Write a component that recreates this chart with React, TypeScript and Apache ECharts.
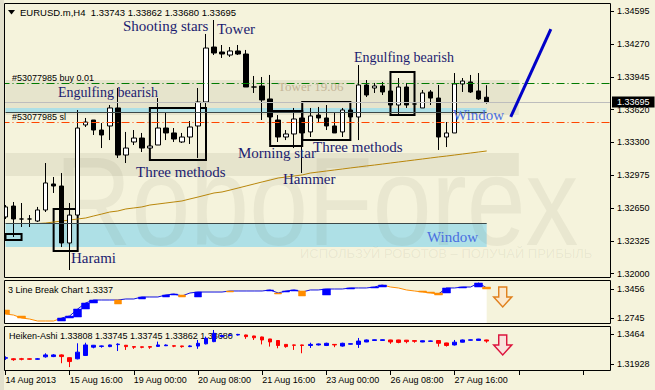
import React, { useEffect, useRef } from 'react';
import * as echarts from 'echarts';

// ---------------- data ----------------
const tickLabels = ['14 Aug 2013', '15 Aug 16:00', '19 Aug 00:00', '20 Aug 08:00', '21 Aug 16:00', '23 Aug 00:00', '26 Aug 08:00', '27 Aug 16:00'];
const barSlots = 76;
const tickEvery = 8;

const opens = [1.32560, 1.32668, 1.32540, 1.32540, 1.32520, 1.32629, 1.32886, 1.32866, 1.32303, 1.32579,
  1.33469, 1.33518, 1.33419, 1.33459, 1.33637, 1.33172, 1.33301, 1.33340, 1.33241, 1.33271,
  1.33439, 1.33390, 1.33301, 1.33350, 1.33459, 1.33696, 1.34239, 1.34190, 1.34160, 1.34200,
  1.34170, 1.33844, 1.33854, 1.33726, 1.33518, 1.33350, 1.33380, 1.33538, 1.33400, 1.33567,
  1.33538, 1.33459, 1.33400, 1.33617, 1.33548, 1.33864, 1.33834, 1.33854, 1.33805, 1.33666,
  1.33844, 1.33676, 1.33637, 1.33795, 1.33735, 1.33350, 1.33390, 1.33874, 1.33894, 1.33805,
  1.33743];
const closes = [1.32659, 1.32540, 1.32540, 1.32540, 1.32629, 1.32896, 1.32866, 1.32303, 1.32579, 1.33439,
  1.33498, 1.33419, 1.33370, 1.33637, 1.33172, 1.33241, 1.33340, 1.33241, 1.33261, 1.33439,
  1.33390, 1.33330, 1.33350, 1.33449, 1.33696, 1.34229, 1.34180, 1.34170, 1.34200, 1.34170,
  1.33844, 1.33844, 1.33716, 1.33548, 1.33350, 1.33380, 1.33528, 1.33390, 1.33558, 1.33538,
  1.33459, 1.33390, 1.33617, 1.33548, 1.33864, 1.33765, 1.33854, 1.33795, 1.33666, 1.33844,
  1.33666, 1.33676, 1.33785, 1.33735, 1.33350, 1.33390, 1.33874, 1.33903, 1.33795, 1.33726,
  1.33695];
const lows = [1.32540, 1.32362, 1.32461, 1.32461, 1.32510, 1.32609, 1.32797, 1.32263, 1.32036, 1.32579,
  1.33449, 1.33370, 1.33241, 1.33320, 1.33143, 1.33093, 1.33271, 1.33202, 1.33231, 1.33271,
  1.33320, 1.33301, 1.33291, 1.33281, 1.33143, 1.33597, 1.34160, 1.34131, 1.34141, 1.34160,
  1.33844, 1.33785, 1.33518, 1.33320, 1.33301, 1.33320, 1.33241, 1.32994, 1.33350, 1.33488,
  1.33419, 1.33390, 1.33350, 1.33538, 1.33320, 1.33745, 1.33785, 1.33765, 1.33647, 1.33567,
  1.33637, 1.33666, 1.33637, 1.33666, 1.33222, 1.33251, 1.33390, 1.33795, 1.33785, 1.33716,
  1.33680];
const highs = [1.32678, 1.32708, 1.32698, 1.32579, 1.32659, 1.33093, 1.32955, 1.32994, 1.32698, 1.33617,
  1.33538, 1.33518, 1.33488, 1.33666, 1.33834, 1.33400, 1.33419, 1.33390, 1.33271, 1.33735,
  1.33587, 1.33439, 1.33390, 1.33508, 1.33834, 1.34368, 1.34506, 1.34259, 1.34239, 1.34259,
  1.34210, 1.33953, 1.33943, 1.33963, 1.33567, 1.33419, 1.33637, 1.33617, 1.33637, 1.33647,
  1.33666, 1.33587, 1.33637, 1.33666, 1.34061, 1.33913, 1.33884, 1.33894, 1.33814, 1.33933,
  1.33884, 1.33686, 1.33814, 1.33814, 1.33864, 1.33498, 1.33982, 1.33933, 1.33963, 1.33982,
  1.33862];

const maValues = [null, null, null, null, 1.32495, 1.32500, 1.32510, 1.32520, 1.32530, 1.32540,
  1.32550, 1.32570, 1.32589, 1.32609, 1.32619, 1.32639, 1.32649, 1.32659, 1.32678, 1.32688,
  1.32698, 1.32708, 1.32718, 1.32738, 1.32757, 1.32777, 1.32797, 1.32807, 1.32826, 1.32846,
  1.32866, 1.32886, 1.32906, 1.32925, 1.32945, 1.32955, 1.32965, 1.32975, 1.32994, 1.33004,
  1.33014, 1.33024, 1.33034, 1.33044, 1.33054, 1.33064, 1.33073, 1.33083, 1.33093, 1.33103,
  1.33113, 1.33123, 1.33133, 1.33143, 1.33153, 1.33162, 1.33172, 1.33182, 1.33192, 1.33202,
  1.33212];

// 3 Line Break
const lbLevels = [1.2843, 1.2818, 1.2745, 1.2720, 1.2671, 1.2671, 1.2671, 1.2745, 1.2794, 1.2966,
  1.3113, 1.3186, 1.3186, 1.3186, 1.3186, 1.3211, 1.3211, 1.3260, 1.3260, 1.3260,
  1.3309, 1.3333, 1.3284, 1.3358, 1.3382, 1.3382, 1.3382, 1.3382, 1.3407, 1.3407,
  1.3407, 1.3407, 1.3407, 1.3432, 1.3358, 1.3407, 1.3432, 1.3382, 1.3432, 1.3432,
  1.3456, 1.3456, 1.3456, 1.3481, 1.3481, 1.3481, 1.3505, 1.3554, 1.3505, 1.3481,
  1.3432, 1.3407, 1.3382, 1.3358, 1.3333, 1.3481, 1.3481, 1.3505, 1.3505, 1.3603,
  1.3481];
const lbBricks = [
  [0, 1.2941, 1.2843], [2, 1.2794, 1.2745], [7, 1.2671, 1.2745], [8, 1.2745, 1.2794],
  [9, 1.2769, 1.2966], [10, 1.2966, 1.3113], [11, 1.3113, 1.3186], [14, 1.3186, 1.3088],
  [17, 1.3211, 1.3260], [20, 1.3260, 1.3309], [21, 1.3309, 1.3333], [22, 1.3309, 1.3260],
  [24, 1.3260, 1.3382], [28, 1.3407, 1.3382], [33, 1.3407, 1.3432], [34, 1.3358, 1.3333],
  [35, 1.3382, 1.3407], [36, 1.3407, 1.3432], [37, 1.3407, 1.3284], [40, 1.3309, 1.3456],
  [43, 1.3456, 1.3481], [46, 1.3481, 1.3505], [47, 1.3505, 1.3554], [52, 1.3407, 1.3382],
  [53, 1.3382, 1.3358], [54, 1.3358, 1.3309], [55, 1.3358, 1.3481], [57, 1.3481, 1.3505],
  [59, 1.3505, 1.3603], [60, 1.3505, 1.3456]];
const lbOrangeSpans = [[0, 7], [47, 55]];
const lbBlueSpans = [[7, 47], [54, 60]];

// Heiken-Ashi
const haOpen = [1.3245, 1.3240, 1.3240, 1.3240, 1.3236, 1.3258, 1.3260, 1.3275, 1.3250, 1.3240,
  1.3270, 1.3345, 1.3352, 1.3350, 1.3368, 1.3362, 1.3350, 1.3348, 1.3350, 1.3352,
  1.3358, 1.3358, 1.3356, 1.3350, 1.3355, 1.3375, 1.3395, 1.3440, 1.3450, 1.3455,
  1.3455, 1.3446, 1.3437, 1.3419, 1.3405, 1.3370, 1.3365, 1.3365, 1.3360, 1.3365,
  1.3360, 1.3370, 1.3355, 1.3372, 1.3370, 1.3392, 1.3405, 1.3406, 1.3410, 1.3410,
  1.3408, 1.3404, 1.3392, 1.3398, 1.3405, 1.3383, 1.3365, 1.3390, 1.3408, 1.3406,
  1.3410];
const haClose = [1.3250, 1.3232, 1.3236, 1.3236, 1.3240, 1.3275, 1.3275, 1.3260, 1.3215, 1.3300,
  1.3365, 1.3362, 1.3356, 1.3365, 1.3372, 1.3350, 1.3345, 1.3344, 1.3345, 1.3365,
  1.3364, 1.3354, 1.3350, 1.3356, 1.3380, 1.3425, 1.3470, 1.3450, 1.3455, 1.3460,
  1.3440, 1.3430, 1.3410, 1.3392, 1.3360, 1.3350, 1.3362, 1.3360, 1.3370, 1.3374,
  1.3380, 1.3365, 1.3380, 1.3376, 1.3400, 1.3410, 1.3412, 1.3412, 1.3392, 1.3388,
  1.3395, 1.3398, 1.3403, 1.3401, 1.3380, 1.3360, 1.3390, 1.3410, 1.3411, 1.3418,
  1.3400];
const haLow = [1.3230, 1.3222, 1.3226, 1.3230, 1.3232, 1.3250, 1.3255, 1.3200, 1.3165, 1.3235,
  1.3265, 1.3335, 1.3340, 1.3345, 1.3310, 1.3320, 1.3330, 1.3335, 1.3330, 1.3348,
  1.3355, 1.3345, 1.3340, 1.3345, 1.3330, 1.3370, 1.3390, 1.3436, 1.3445, 1.3450,
  1.3420, 1.3410, 1.3370, 1.3350, 1.3335, 1.3340, 1.3320, 1.3290, 1.3338, 1.3360,
  1.3355, 1.3345, 1.3350, 1.3370, 1.3338, 1.3390, 1.3402, 1.3404, 1.3375, 1.3380,
  1.3380, 1.3385, 1.3390, 1.3396, 1.3350, 1.3350, 1.3360, 1.3388, 1.3405, 1.3404,
  1.3385];
const haHigh = [1.3262, 1.3245, 1.3248, 1.3244, 1.3246, 1.3290, 1.3282, 1.3280, 1.3252, 1.3380,
  1.3385, 1.3365, 1.3360, 1.3368, 1.3380, 1.3365, 1.3355, 1.3350, 1.3355, 1.3395,
  1.3370, 1.3360, 1.3358, 1.3362, 1.3410, 1.3440, 1.3500, 1.3458, 1.3460, 1.3465,
  1.3458, 1.3448, 1.3440, 1.3420, 1.3408, 1.3372, 1.3368, 1.3368, 1.3385, 1.3378,
  1.3385, 1.3372, 1.3385, 1.3378, 1.3428, 1.3414, 1.3414, 1.3414, 1.3412, 1.3412,
  1.3410, 1.3406, 1.3406, 1.3404, 1.3408, 1.3385, 1.3410, 1.3414, 1.3414, 1.3420,
  1.3412];

const mainTicks = [1.32, 1.32325, 1.3265, 1.32975, 1.333, 1.3362, 1.33945, 1.3427, 1.34595];
const lbTicks = [1.2745, 1.3456];
const haTicks = [1.31928, 1.3464];
const buyLevel = 1.33884;
const slLevel = 1.33493;
const bidLevel = 1.33695;

// [fromBar, toBar, topPrice, bottomPrice]
const patternBoxes = [
  [6, 9, 1.32639, 1.32224],
  [-1, 2, 1.32392, 1.32333],
  [18, 25, 1.33637, 1.33123],
  [33, 37, 1.33607, 1.33261],
  [37, 43, 1.33696, 1.3332],
  [48, 51, 1.33992, 1.33567],
];
const towerBands = [[-1, 64, 1.33913, 1.33567], [-1, 64, 1.33192, 1.32965]];
const windowBands = [[-1, 60, 1.33637, 1.33597, 1.33597], [-1, 60, 1.325, 1.32263, 1.325]];
const forecastLine = [[63, 1.33548], [68, 1.34417]];
const lbArrow = [62, 1.326];
const haArrow = [62, 1.3365];

// ---------------- styling ----------------
const UI = '"Liberation Sans", Arial, sans-serif';
const SERIF = '"Liberation Serif", "Times New Roman", serif';
const BG = '#f5f3dc';
const NAVY = '#1c1c70';
const ROYAL = '#4a6ee0';
const ARROW = 'path://M5,0L13,0L13,10L18,10L9,20L0,10L5,10Z';

const inSpans = (i: number, spans: number[][]) => spans.some(([a, b]) => i >= a && i <= b);

export default function App() {
  const ref = useRef<HTMLDivElement>(null);
  useEffect(() => {
    document.body.style.margin = '0';
    const chart = echarts.init(ref.current!, null, { renderer: 'svg' });
    const cats = Array.from({ length: barSlots }, (_, i) => String(i));
    const candleData = opens.map((o, i) => [o, closes[i], lows[i], highs[i]]);
    const haData = haOpen.map((o, i) => [o, haClose[i], haLow[i], haHigh[i]]);
    const brickData = lbBricks.map(([i, o, c]) => [i, o, c, Math.min(o, c), Math.max(o, c)]);
    const tickFn = (i: number) => i % tickEvery === 0;

    const xBase = (gridIndex: number) => ({
      type: 'category', gridIndex, data: cats, boundaryGap: true,
      axisLine: { show: false }, splitLine: { show: false },
      axisTick: { show: false }, axisLabel: { show: false },
    });
    const yBase = (gridIndex: number, min: number, max: number, ticks: number[], fmt: (v: number) => string) => ({
      type: 'value', gridIndex, position: 'right', min, max, scale: true,
      axisLine: { show: false }, splitLine: { show: false },
      axisTick: { show: true, length: 3, lineStyle: { color: '#000' }, customValues: ticks },
      axisLabel: { customValues: ticks, formatter: fmt, margin: 6, color: '#000', fontSize: 9, fontFamily: UI },
    });

    const text = (t: string, x: number, y: number, size: number, fill: string, family = SERIF, z = 20) => ({
      type: 'text', x, y, z, silent: true,
      style: { text: t, fill, fontSize: size, fontFamily: family, verticalAlign: 'middle', align: 'left' },
    });

    const option: any = {
      animation: false,
      backgroundColor: BG,
      grid: [
        { left: 1.5, right: 44, top: 3, height: 274.5 },
        { left: 1.5, right: 44, top: 280.5, height: 43.5 },
        { left: 1.5, right: 44, top: 326.5, height: 44.5 },
      ],
      xAxis: [
        xBase(0),
        xBase(1),
        {
          ...xBase(2),
          axisTick: { show: true, interval: tickFn, alignWithLabel: true, length: 4, lineStyle: { color: '#000' } },
          axisLabel: {
            show: true, interval: tickFn, align: 'left', margin: 4, color: '#000', fontSize: 9, fontFamily: UI,
            formatter: (_v: string, i: number) => (i % tickEvery === 0 ? tickLabels[i / tickEvery] ?? '' : ''),
          },
        },
      ],
      yAxis: [
        yBase(0, 1.31962, 1.34674, mainTicks, (v) => v.toFixed(5)),
        yBase(1, 1.25979, 1.36644, lbTicks, (v) => String(v)),
        yBase(2, 1.31298, 1.35315, haTicks, (v) => String(v)),
      ],
      series: [
        {
          name: 'bands', type: 'line', xAxisIndex: 0, yAxisIndex: 0, data: [], z: 1, silent: true,
          markArea: {
            silent: true,
            data: [
              ...towerBands.map(([a, b, t, btm]) => [
                { coord: [a, t], itemStyle: { color: '#e6e4cc' } }, { coord: [b, btm] }]),
              ...windowBands.map(([a, b, t, btm]) => [
                { coord: [a, t], itemStyle: { color: '#aee0e6' } }, { coord: [b, btm] }]),
            ],
          },
          markLine: {
            silent: true, symbol: ['none', 'none'], precision: 5,
            lineStyle: { color: '#3c4848', width: 1, type: 'solid' },
            label: { show: false },
            data: windowBands.map(([, b, , , edge]) => [{ coord: [0, edge] }, { coord: [b, edge] }]),
          },
        },
        {
          name: 'MA', type: 'line', xAxisIndex: 0, yAxisIndex: 0, data: maValues, z: 2,
          showSymbol: false, silent: true, lineStyle: { color: '#b8860b', width: 1 },
          markLine: {
            silent: true, symbol: ['none', 'none'], precision: 5,
            data: [
              { yAxis: buyLevel, lineStyle: { color: '#007a00', width: 1, type: [8, 3, 1, 3] }, label: { show: false } },
              { yAxis: slLevel, lineStyle: { color: '#ff4500', width: 1, type: [8, 3, 1, 3] }, label: { show: false } },
              {
                yAxis: bidLevel, lineStyle: { color: '#bdbdbd', width: 1, type: 'solid' },
                label: {
                  show: true, position: 'end', distance: 1, formatter: bidLevel.toFixed(5),
                  backgroundColor: '#000', color: '#fff', padding: [1, 5, 1, 5], fontSize: 9, fontFamily: UI,
                },
              },
            ],
          },
        },
        {
          name: 'EURUSD', type: 'candlestick', xAxisIndex: 0, yAxisIndex: 0, data: candleData, z: 3,
          barWidth: 5, silent: true,
          itemStyle: { color: '#ffffff', color0: '#000000', borderColor: '#000000', borderColor0: '#000000', borderWidth: 1 },
        },
        {
          name: 'patterns', type: 'line', xAxisIndex: 0, yAxisIndex: 0, data: [], z: 4, silent: true,
          markArea: {
            silent: true,
            itemStyle: { color: 'rgba(0,0,0,0)', borderColor: '#000', borderWidth: 2 },
            data: patternBoxes.map(([a, b, t, btm]) => [{ coord: [a, t] }, { coord: [b, btm] }]),
          },
          markLine: {
            silent: true, symbol: ['none', 'none'], precision: 5,
            lineStyle: { color: '#0000c8', width: 3, type: 'solid' }, label: { show: false },
            data: [[{ coord: forecastLine[0] }, { coord: forecastLine[1] }]],
          },
        },
        {
          name: '3LB area', type: 'line', xAxisIndex: 1, yAxisIndex: 1, data: lbLevels, z: 1, silent: true,
          showSymbol: false, lineStyle: { width: 0, opacity: 0 },
          areaStyle: { color: '#ffffff', opacity: 1, origin: 'start' },
        },
        {
          name: '3LB down line', type: 'line', xAxisIndex: 1, yAxisIndex: 1, z: 2, silent: true, showSymbol: false,
          data: lbLevels.map((v, i) => (inSpans(i, lbOrangeSpans) ? v : null)),
          lineStyle: { color: '#ff8c00', width: 1 },
        },
        {
          name: '3LB up line', type: 'line', xAxisIndex: 1, yAxisIndex: 1, z: 2, silent: true, showSymbol: false,
          data: lbLevels.map((v, i) => (inSpans(i, lbBlueSpans) ? v : null)),
          lineStyle: { color: '#1010e0', width: 1 },
        },
        {
          name: '3LB bricks', type: 'candlestick', xAxisIndex: 1, yAxisIndex: 1, z: 3, silent: true,
          data: brickData, dimensions: ['idx', 'open', 'close', 'lowest', 'highest'],
          encode: { x: 'idx', y: ['open', 'close', 'lowest', 'highest'] },
          barWidth: 8,
          itemStyle: { color: '#0000ff', color0: '#ff8c00', borderColor: '#0000ff', borderColor0: '#ff8c00', borderWidth: 0.5 },
          markPoint: {
            silent: true, symbol: ARROW, symbolSize: [18, 20], label: { show: false },
            itemStyle: { color: '#fbe9cf', borderColor: '#e0801e', borderWidth: 1.5 },
            data: [{ coord: lbArrow }],
          },
        },
        {
          name: 'Heiken-Ashi', type: 'candlestick', xAxisIndex: 2, yAxisIndex: 2, z: 3, silent: true,
          data: haData, barWidth: 4,
          itemStyle: { color: '#0000ff', color0: '#ff0000', borderColor: '#0000ff', borderColor0: '#ff0000', borderWidth: 1 },
          markPoint: {
            silent: true, symbol: ARROW, symbolSize: [18, 20], label: { show: false },
            itemStyle: { color: '#f9e2dc', borderColor: '#dc143c', borderWidth: 1.5 },
            data: [{ coord: haArrow }],
          },
        },
      ],
      graphic: {
        elements: [
          {
            type: 'text', x: 55, y: 202, z: 2, scaleX: 0.84, silent: true,
            style: { text: 'RoboForex', fill: 'rgba(80,80,50,0.07)', fontSize: 126, fontFamily: UI, verticalAlign: 'middle', align: 'left' },
          },
          {
            type: 'text', x: 300, y: 253, z: 2, silent: true,
            style: { text: 'ИСПОЛЬЗУЙ РОБОТОВ – ПОЛУЧАЙ ПРИБЫЛЬ', fill: 'rgba(80,80,50,0.08)', fontSize: 13, fontFamily: UI, verticalAlign: 'middle', align: 'left' },
          },
          { type: 'rect', z: 100, silent: true, shape: { x: 0, y: 0, width: 4, height: 390 }, style: { fill: '#e2e0cc' } },
          { type: 'rect', z: 101, silent: true, shape: { x: 4.5, y: 3.5, width: 606, height: 274 }, style: { fill: 'none', stroke: '#000', lineWidth: 1 } },
          { type: 'rect', z: 101, silent: true, shape: { x: 4.5, y: 280.5, width: 606, height: 43 }, style: { fill: 'none', stroke: '#000', lineWidth: 1 } },
          { type: 'rect', z: 101, silent: true, shape: { x: 4.5, y: 326.5, width: 606, height: 44 }, style: { fill: 'none', stroke: '#000', lineWidth: 1 } },
          { type: 'polygon', z: 20, silent: true, shape: { points: [[8, 10], [15, 10], [11.5, 14.5]] }, style: { fill: '#000' } },
          text('EURUSD.m,H4  1.33743 1.33862 1.33680 1.33695', 20, 12, 9.5, '#000', UI),
          text('#53077985 buy 0.01', 12, 78, 9, '#000', UI),
          text('#53077985 sl', 12, 117, 9, '#000', UI),
          text('3 Line Break Chart 1.3337', 8, 290, 9, '#000', UI),
          text('Heiken-Ashi 1.33808 1.33745 1.33745 1.33862 1.33680', 9, 336, 9, '#000', UI, 1),
          text('Shooting stars', 123, 25.5, 15, NAVY),
          text('Tower', 217, 29, 15, NAVY),
          text('Engulfing bearish', 58, 92, 14, NAVY),
          text('Engulfing bearish', 354, 57, 14, NAVY),
          text('Three methods', 136, 172, 15, NAVY),
          text('Morning star', 238, 153, 15, NAVY),
          text('Three methods', 313, 147, 15, NAVY),
          text('Hammer', 283, 179, 15, NAVY),
          text('Harami', 71, 258, 15, NAVY),
          text('Window', 453, 115, 15, ROYAL),
          text('Window', 427, 237, 15, ROYAL),
          text('Tower 19.06', 278, 86, 13, '#c4b496'),
        ],
      },
    };
    chart.setOption(option);
    return () => chart.dispose();
  }, []);
  return <div ref={ref} style={{ width: 655, height: 390 }} />;
}
